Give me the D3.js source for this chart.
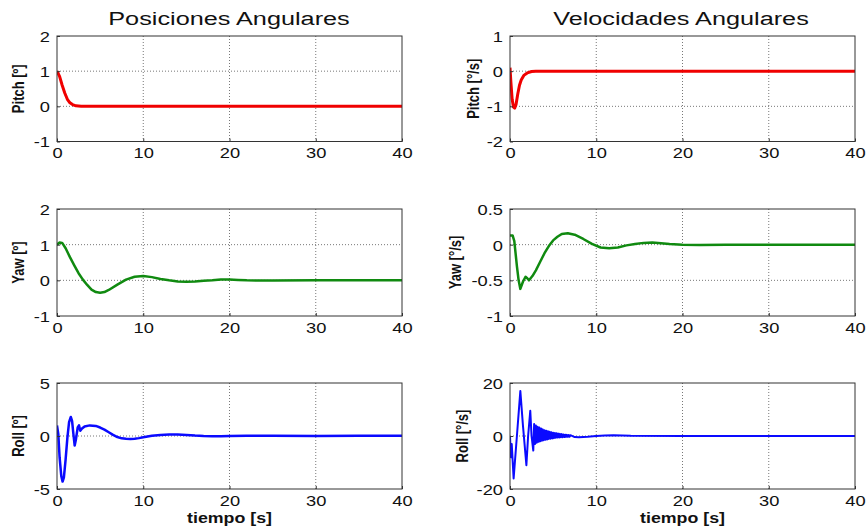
<!DOCTYPE html>
<html>
<head>
<meta charset="utf-8">
<script src="https://cdn.jsdelivr.net/npm/d3@7"></script>
<style>
  body { margin: 0; background: #fff; }
  svg { display: block; }
  text { font-family: "Liberation Sans", Arial, sans-serif; fill: #111; }
</style>
</head>
<body>
<div id="chart"></div>
<script>
// axis ticks
var xTicks = [0, 10, 20, 30, 40];
var pitchPosTicks = [-1, 0, 1, 2];
var pitchVelTicks = [-2, -1, 0, 1];
var yawPosTicks = [-1, 0, 1, 2];
var yawVelTicks = [-1, -0.5, 0, 0.5];
var rollPosTicks = [-5, 0, 5];
var rollVelTicks = [-20, 0, 20];

// Pitch [º]
var pitchPosT = [0, 0.3, 0.6, 0.9, 1.2, 1.5, 1.8, 2.2, 2.8, 40];
var pitchPosV = [1, 0.85, 0.6, 0.38, 0.2, 0.1, 0.05, 0.015, 0, 0];

// Pitch [°/s]
var pitchVelT = [0, 0.1, 0.25, 0.4, 0.55, 0.7, 0.9, 1.1, 1.3, 1.6, 2.0, 2.5, 3, 40];
var pitchVelV = [0.1, -0.3, -0.8, -1.02, -1.05, -0.95, -0.65, -0.4, -0.25, -0.12, -0.05, -0.01, 0, 0];

// Yaw [º]
var yawPosT = [0, 0.3, 0.6, 1.0, 1.5, 2, 2.5, 3, 3.5, 4, 4.5, 5, 5.5, 6, 7, 8, 9, 10, 11, 12, 13, 14, 15, 16, 17, 18, 19, 20, 21, 22, 25, 30, 40];
var yawPosV = [1.0, 1.06, 1.05, 0.9, 0.65, 0.42, 0.2, 0.02, -0.13, -0.26, -0.33, -0.35, -0.33, -0.27, -0.12, 0.02, 0.1, 0.12, 0.09, 0.04, 0.0, -0.03, -0.04, -0.03, -0.01, 0.0, 0.02, 0.02, 0.01, 0, -0.005, 0, 0];

// Yaw [°/s]
var yawVelT = [0, 0.3, 0.5, 0.8, 1.0, 1.2, 1.5, 1.8, 2.0, 2.2, 2.6, 3, 3.5, 4, 4.5, 5, 5.5, 6, 6.7, 7.5, 8.5, 9.5, 10.5, 11.5, 12.5, 13.5, 14.5, 15.5, 16.5, 17.5, 18.5, 20, 22, 25, 40];
var yawVelV = [0.13, 0.13, 0.05, -0.3, -0.5, -0.62, -0.52, -0.45, -0.47, -0.5, -0.44, -0.36, -0.24, -0.12, -0.02, 0.06, 0.11, 0.15, 0.16, 0.14, 0.08, 0.01, -0.04, -0.05, -0.04, -0.01, 0.01, 0.025, 0.03, 0.02, 0.01, 0, -0.005, 0, 0];

// Roll [º]
var rollPosT = [0, 0.15, 0.3, 0.5, 0.65, 0.8, 1.0, 1.2, 1.4, 1.6, 1.75, 1.9, 2.05, 2.2, 2.4, 2.55, 2.7, 2.9, 3.2, 3.8, 4.5, 5, 5.5, 6, 6.5, 7, 7.5, 8, 8.5, 9, 9.5, 10, 10.5, 11, 12, 13, 14, 15, 16, 17, 18, 19, 20, 22, 25, 30, 35, 40];
var rollPosV = [1.0, 0.2, -2.0, -3.8, -4.3, -3.9, -2.2, -0.2, 1.3, 1.8, 1.4, 0.2, -0.9, -0.3, 0.8, 1.0, 0.5, 0.7, 0.9, 1.0, 0.95, 0.8, 0.6, 0.35, 0.1, -0.1, -0.22, -0.27, -0.28, -0.25, -0.2, -0.12, -0.05, 0.02, 0.1, 0.14, 0.13, 0.1, 0.04, 0.0, -0.02, -0.03, 0.0, 0.02, 0.03, 0.0, 0.02, 0.02];

// Roll [°/s]
var rollVelT = [0, 0.1, 0.2, 0.42, 0.8, 1.2, 1.5, 1.9, 2.1, 2.35, 2.5, 2.7,
  2.8, 2.9, 3.0, 3.1, 3.2, 3.3, 3.4, 3.5, 3.6, 3.7, 3.8, 3.9, 4.0, 4.1, 4.2, 4.3, 4.4, 4.5, 4.6, 4.7, 4.8, 4.9,
  5.0, 5.1, 5.2, 5.3, 5.4, 5.5, 5.6, 5.7, 5.8, 5.9, 6.0, 6.1, 6.2, 6.3, 6.4, 6.5, 6.6, 6.7, 6.8, 6.9, 7.0,
  7.5, 8, 9, 10, 11, 12, 14, 20, 30, 40];
var rollVelV = [0, -8, -3, -16, 0, 17, 4, -11, 0, 9.5, 0, -5.5,
  4.5, -3, 4, -2.5, 3.5, -2.2, 3.2, -2, 2.8, -1.8, 2.5, -1.6, 2.2, -1.4, 2.0, -1.3, 1.8, -1.1, 1.6, -1.0, 1.4, -0.9,
  1.2, -0.8, 1.1, -0.7, 1.0, -0.6, 0.9, -0.55, 0.8, -0.5, 0.7, -0.45, 0.6, -0.4, 0.5, -0.35, 0.45, -0.3, 0.4, -0.3, 0.3,
  -0.4, -0.5, -0.3, 0.0, 0.2, 0.3, 0.1, 0, 0, 0];

var width = 867, height = 532;
var cols = [{x0: 57, x1: 402}, {x0: 510, x1: 855}];
var rows = [{y0: 36, y1: 141.5}, {y0: 209, y1: 316}, {y0: 383, y1: 489}];
var sx = 1.22; // the picture is stretched sideways

var panels = [
  {c: 0, r: 0, t: pitchPosT, v: pitchPosV, ticks: pitchPosTicks, color: "#f00000", w: 3, label: "Pitch [º]", lx: 18},
  {c: 1, r: 0, t: pitchVelT, v: pitchVelV, ticks: pitchVelTicks, color: "#f00000", w: 3, label: "Pitch [°/s]", lx: 473},
  {c: 0, r: 1, t: yawPosT, v: yawPosV, ticks: yawPosTicks, color: "#108a10", w: 2.5, label: "Yaw [º]", lx: 18},
  {c: 1, r: 1, t: yawVelT, v: yawVelV, ticks: yawVelTicks, color: "#108a10", w: 2.5, label: "Yaw [°/s]", lx: 455},
  {c: 0, r: 2, t: rollPosT, v: rollPosV, ticks: rollPosTicks, color: "#0a0aff", w: 2.5, label: "Roll [º]", lx: 18},
  {c: 1, r: 2, t: rollVelT, v: rollVelV, ticks: rollVelTicks, color: "#0a0aff", w: 2, label: "Roll [°/s]", lx: 462}
];

var svg = d3.select("#chart").append("svg")
  .attr("width", width)
  .attr("height", height);

panels.forEach(function(p, i) {
  var col = cols[p.c], row = rows[p.r];
  var x = d3.scaleLinear().domain([0, 40]).range([col.x0, col.x1]);
  var y = d3.scaleLinear().domain(d3.extent(p.ticks)).range([row.y1, row.y0]);

  var g = svg.append("g");

  g.append("clipPath").attr("id", "clip" + i)
    .append("rect")
    .attr("x", col.x0).attr("y", row.y0)
    .attr("width", col.x1 - col.x0).attr("height", row.y1 - row.y0);

  // grid
  g.selectAll(".gx").data(xTicks.slice(1, -1)).join("line")
    .attr("x1", function(d) { return x(d); }).attr("x2", function(d) { return x(d); })
    .attr("y1", row.y0).attr("y2", row.y1)
    .attr("stroke", "#777").attr("stroke-width", 1).attr("stroke-dasharray", "1,2");
  g.selectAll(".gy").data(p.ticks.slice(1, -1)).join("line")
    .attr("y1", function(d) { return y(d); }).attr("y2", function(d) { return y(d); })
    .attr("x1", col.x0).attr("x2", col.x1)
    .attr("stroke", "#777").attr("stroke-width", 1).attr("stroke-dasharray", "1,2");

  // data line
  var pts = p.t.map(function(t, k) { return [t, p.v[k]]; });
  var line = d3.line().x(function(d) { return x(d[0]); }).y(function(d) { return y(d[1]); });
  g.append("path")
    .datum(pts)
    .attr("clip-path", "url(#clip" + i + ")")
    .attr("d", line)
    .attr("fill", "none")
    .attr("stroke", p.color)
    .attr("stroke-width", p.w)
    .attr("stroke-linejoin", "round");

  // axes with inward ticks
  var ax = g.append("g").attr("transform", "translate(0," + row.y1 + ")")
    .call(d3.axisBottom(x).tickValues(xTicks).tickSizeInner(-3).tickSizeOuter(0).tickPadding(0)
      .tickFormat(function(d) { return String(d); }));
  ax.selectAll("text")
    .attr("y", 17).attr("dy", 0)
    .attr("transform", "scale(" + sx + ",1)");

  var ay = g.append("g").attr("transform", "translate(" + col.x0 + ",0)")
    .call(d3.axisLeft(y).tickValues(p.ticks).tickSizeInner(-3).tickSizeOuter(0).tickPadding(0)
      .tickFormat(function(d) { return String(d); }));
  ay.selectAll("text")
    .attr("x", -7 / sx).attr("dy", "0.36em")
    .attr("transform", "scale(" + sx + ",1)");

  g.selectAll(".domain").remove();
  g.selectAll(".tick line").attr("stroke", "#333");
  g.selectAll(".tick text").style("font-size", "15px").attr("fill", "#111");

  // frame
  g.append("rect")
    .attr("x", col.x0).attr("y", row.y0)
    .attr("width", col.x1 - col.x0).attr("height", row.y1 - row.y0)
    .attr("fill", "none").attr("stroke", "#333").attr("stroke-width", 1);

  // y label
  var cy = (row.y0 + row.y1) / 2;
  g.append("text")
    .attr("transform", "translate(" + p.lx + "," + cy + ") scale(" + sx + ",1) rotate(-90)")
    .attr("text-anchor", "middle")
    .attr("dy", "0.35em")
    .style("font-size", "13px")
    .style("font-weight", "bold")
    .text(p.label);

  if (p.r === 2) {
    g.append("text")
      .attr("transform", "translate(" + ((col.x0 + col.x1) / 2) + ",523) scale(1.27,1)")
      .attr("text-anchor", "middle")
      .style("font-size", "14px")
      .style("font-weight", "bold")
      .text("tiempo [s]");
  }
});

// titles
svg.append("text")
  .attr("transform", "translate(229,25) scale(1.33,1)")
  .attr("text-anchor", "middle")
  .style("font-size", "19px")
  .text("Posiciones Angulares");
svg.append("text")
  .attr("transform", "translate(681,25) scale(1.33,1)")
  .attr("text-anchor", "middle")
  .style("font-size", "19px")
  .text("Velocidades Angulares");
</script>
</body>
</html>
